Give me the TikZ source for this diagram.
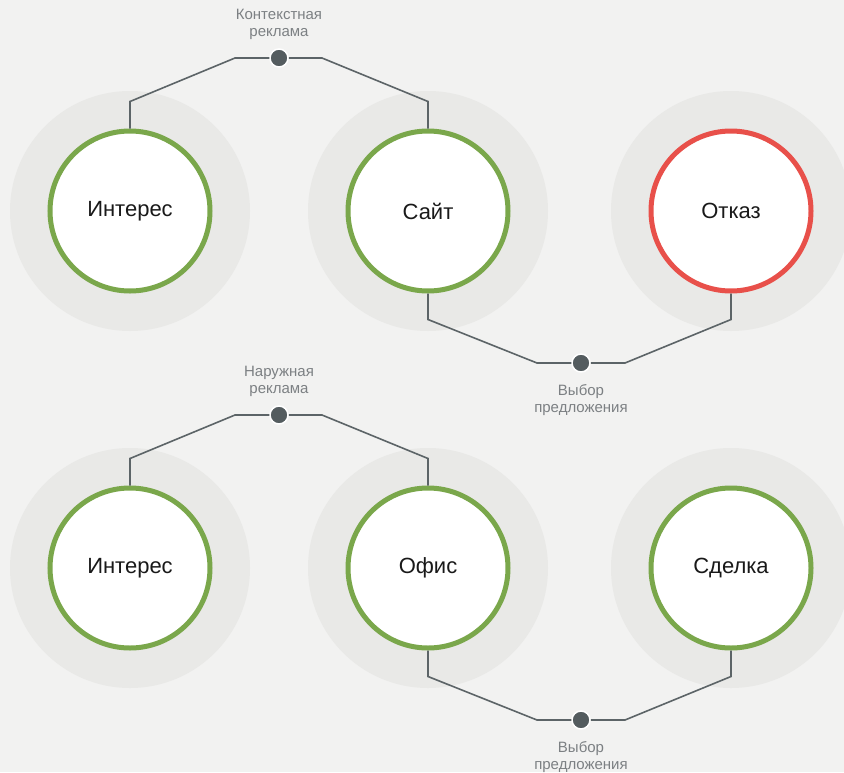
\documentclass[tikz,border=0pt]{standalone}
\usepackage{fontspec}
\setmainfont{Liberation Sans}
\usetikzlibrary{positioning}

\definecolor{bgcol}{HTML}{F2F2F1}
\definecolor{halocol}{HTML}{E9E9E7}
\definecolor{okcol}{HTML}{7AA74B}
\definecolor{failcol}{HTML}{E8504A}
\definecolor{linecol}{HTML}{5C6467}
\definecolor{dotcol}{HTML}{545C5F}
\definecolor{labelcol}{HTML}{7C8083}

\begin{document}
\begin{tikzpicture}[
    x=1pt, y=-1pt,
    every node/.style={font=\fontsize{22}{26}\selectfont, text=black!90},
    stage/.style={
      circle,
      draw=okcol,
      line width=5pt,
      fill=white,
      minimum size=160pt,
      inner sep=0
    },
    fail/.style={stage, draw=failcol},
    halo/.style={fill=halocol},
    link/.style={draw=linecol, line width=1.6pt, line join=miter},
    knot/.style={
      circle,
      fill=dotcol,
      draw=white,
      line width=1.5pt,
      minimum size=18pt,
      inner sep=0
    },
    caption/.style={
      font=\fontsize{15}{17}\selectfont,
      text=labelcol,
      align=center,
      inner sep=0
    }
    ]

    \useasboundingbox (0,0) rectangle (844,772);
    \fill[bgcol] (0,0) rectangle (844,772);

    % halos
    \foreach \y in {211,568}
      \foreach \x in {130,428,731}
        \fill[halo] (\x,\y) circle (120pt);

    % first row
    \node [stage] (int1) at (130,211) {Интерес};
    \node [stage] (site) at (428,211) {Сайт};
    \node [fail] (refuse) at (731,211) {Отказ};

    \node [knot] (ad1) at (279,58) {};
    \node [knot] (offer1) at (581,363) {};
    \node [caption] (adlab1) [above = 8pt of ad1] {Контекстная\\реклама};
    \node [caption] (offlab1) [below = 12pt of offer1] {Выбор\\предложения};

    \draw[link] (int1.north) -- ++(0,-27) -- ([xshift=-44pt]ad1.center) -- (ad1);
    \draw[link] (ad1) -- ++(43,0) -- ([yshift=27pt]site.north) -- (site.north);
    \draw[link] (site.south) -- ++(0,26) -- ([xshift=-44pt]offer1.center) -- (offer1);
    \draw[link] (offer1) -- ++(44,0) -- ([yshift=-26pt]refuse.south) -- (refuse.south);

    % second row
    \node [stage] (int2) at (130,568) {Интерес};
    \node [stage] (office) at (428,568) {Офис};
    \node [stage] (deal) at (731,568) {Сделка};

    \node [knot] (ad2) at (279,415) {};
    \node [knot] (offer2) at (581,720) {};
    \node [caption] (adlab2) [above = 8pt of ad2] {Наружная\\реклама};
    \node [caption] (offlab2) [below = 12pt of offer2] {Выбор\\предложения};

    \draw[link] (int2.north) -- ++(0,-27) -- ([xshift=-44pt]ad2.center) -- (ad2);
    \draw[link] (ad2) -- ++(43,0) -- ([yshift=27pt]office.north) -- (office.north);
    \draw[link] (office.south) -- ++(0,26) -- ([xshift=-44pt]offer2.center) -- (offer2);
    \draw[link] (offer2) -- ++(44,0) -- ([yshift=-26pt]deal.south) -- (deal.south);

  \end{tikzpicture}
\end{document}
